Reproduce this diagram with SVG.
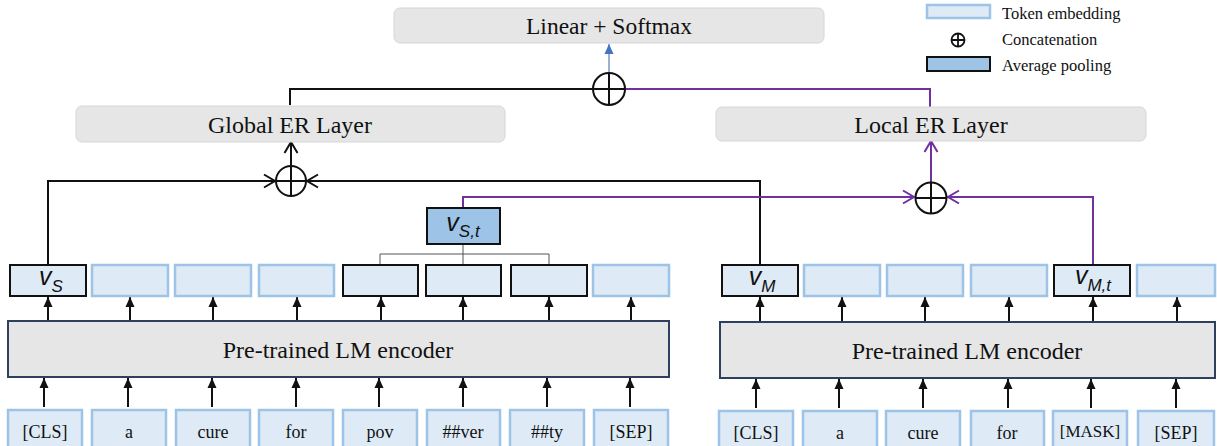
<svg xmlns="http://www.w3.org/2000/svg" width="1217" height="446" viewBox="0 0 1217 446">
<style>
.layer{fill:#e6e6e6;stroke:#d6d6d6;stroke-width:1}
.enc{fill:#e6e6e6;stroke:#2f3f60;stroke-width:2}
.tok{fill:#deebf7;stroke:#9dc3e6;stroke-width:2.5}
.sel{fill:#deebf7;stroke:#111;stroke-width:2}
.pool{fill:#9dc3e6;stroke:#111;stroke-width:2}
.vlab{font-style:italic;fill:#111;font-size:25px}
.sub{font-size:17px}
.blk{fill:none;stroke:#111;stroke-width:2}
.pur{fill:none;stroke:#7030a0;stroke-width:2}
.thin{fill:none;stroke:#555;stroke-width:1}
.cat{fill:#fff;stroke:#111;stroke-width:2}
</style>
<defs>
<marker id="tri" markerUnits="userSpaceOnUse" markerWidth="10" markerHeight="10" viewBox="0 0 10 10" refX="10" refY="5" orient="auto">
<path d="M0,0.5 L10,5 L0,9.5 Z" fill="#111"/>
</marker>
<marker id="triBlue" markerUnits="userSpaceOnUse" markerWidth="10" markerHeight="10" viewBox="0 0 10 10" refX="10" refY="5" orient="auto">
<path d="M0,0.5 L10,5 L0,9.5 Z" fill="#4472c4"/>
</marker>
<marker id="chevK" markerUnits="userSpaceOnUse" markerWidth="14" markerHeight="16" viewBox="0 0 14 16" refX="12" refY="8" orient="auto">
<path d="M1,1.5 L12,8 L1,14.5" fill="none" stroke="#111" stroke-width="2"/>
</marker>
<marker id="chevP" markerUnits="userSpaceOnUse" markerWidth="14" markerHeight="16" viewBox="0 0 14 16" refX="12" refY="8" orient="auto">
<path d="M1,1.5 L12,8 L1,14.5" fill="none" stroke="#7030a0" stroke-width="2"/>
</marker>
</defs>

<g id="legend" font-family="Liberation Serif" font-size="16.5" fill="#111">
<rect x="927" y="5" width="63" height="13" class="tok" stroke-width="2"/>
<text x="1002" y="19">Token embedding</text>
<circle cx="958" cy="40" r="6.5" fill="#fff" stroke="#111" stroke-width="1.8"/>
<path d="M951.5,40 H964.5 M958,33.5 V46.5" stroke="#111" stroke-width="1.8"/>
<text x="1002" y="45">Concatenation</text>
<rect x="927" y="57" width="63" height="14" class="pool"/>
<text x="1002" y="71">Average pooling</text>
</g>

<g id="connectors">
<line x1="609" y1="73" x2="609" y2="44" stroke="#9db0d3" stroke-width="2" marker-end="url(#triBlue)"/>
<polyline points="290,105 290,89 593,89" class="blk"/>
<polyline points="625,89 930,89 930,107" class="pur"/>
<polyline points="48,265 48,181 275,181" class="blk" marker-end="url(#chevK)"/>
<polyline points="760,265 760,181 307,181" class="blk" marker-end="url(#chevK)"/>
<line x1="291" y1="166" x2="291" y2="142" class="blk" marker-end="url(#chevK)"/>
<polyline points="463,208 463,197 914,197" class="pur" marker-end="url(#chevP)"/>
<polyline points="1093,265 1093,197 948,197" class="pur" marker-end="url(#chevP)"/>
<line x1="931" y1="182" x2="931" y2="141" class="pur" marker-end="url(#chevP)"/>
<polyline points="463,244 463,254" class="thin"/>
<polyline points="380,265 380,254 549,254 549,265" class="thin"/>
<line x1="463" y1="254" x2="463" y2="265" class="thin"/>
<g class="blk">
<line x1="48" y1="321" x2="48" y2="297" marker-end="url(#tri)"/>
<line x1="130" y1="321" x2="130" y2="297" marker-end="url(#tri)"/>
<line x1="213" y1="321" x2="213" y2="297" marker-end="url(#tri)"/>
<line x1="297" y1="321" x2="297" y2="297" marker-end="url(#tri)"/>
<line x1="381" y1="321" x2="381" y2="297" marker-end="url(#tri)"/>
<line x1="463" y1="321" x2="463" y2="297" marker-end="url(#tri)"/>
<line x1="549" y1="321" x2="549" y2="297" marker-end="url(#tri)"/>
<line x1="631" y1="321" x2="631" y2="297" marker-end="url(#tri)"/>
<line x1="760" y1="322" x2="760" y2="297" marker-end="url(#tri)"/>
<line x1="842" y1="322" x2="842" y2="297" marker-end="url(#tri)"/>
<line x1="925" y1="322" x2="925" y2="297" marker-end="url(#tri)"/>
<line x1="1009" y1="322" x2="1009" y2="297" marker-end="url(#tri)"/>
<line x1="1093" y1="322" x2="1093" y2="297" marker-end="url(#tri)"/>
<line x1="1177" y1="322" x2="1177" y2="297" marker-end="url(#tri)"/>
<line x1="44" y1="407" x2="44" y2="378" marker-end="url(#tri)"/>
<line x1="128" y1="407" x2="128" y2="378" marker-end="url(#tri)"/>
<line x1="212" y1="407" x2="212" y2="378" marker-end="url(#tri)"/>
<line x1="296" y1="407" x2="296" y2="378" marker-end="url(#tri)"/>
<line x1="379" y1="407" x2="379" y2="378" marker-end="url(#tri)"/>
<line x1="463" y1="407" x2="463" y2="378" marker-end="url(#tri)"/>
<line x1="547" y1="407" x2="547" y2="378" marker-end="url(#tri)"/>
<line x1="630" y1="407" x2="630" y2="378" marker-end="url(#tri)"/>
<line x1="756" y1="408" x2="756" y2="379" marker-end="url(#tri)"/>
<line x1="839" y1="408" x2="839" y2="379" marker-end="url(#tri)"/>
<line x1="923" y1="408" x2="923" y2="379" marker-end="url(#tri)"/>
<line x1="1008" y1="408" x2="1008" y2="379" marker-end="url(#tri)"/>
<line x1="1091" y1="408" x2="1091" y2="379" marker-end="url(#tri)"/>
<line x1="1176" y1="408" x2="1176" y2="379" marker-end="url(#tri)"/>
</g>
</g>

<g id="linear-softmax">
<rect x="394" y="8" width="430" height="35" rx="6" class="layer"/>
<text x="609" y="34" text-anchor="middle" font-family="Liberation Serif" font-size="23.5" fill="#111">Linear + Softmax</text>
</g>
<g id="concat-top">
<circle cx="609" cy="89" r="16" class="cat"/>
<path d="M593,89 H625 M609,73 V105" stroke="#111" stroke-width="2"/>
</g>
<g id="global-er">
<rect x="76" y="106" width="429" height="36" rx="6" class="layer"/>
<text x="290" y="133" text-anchor="middle" font-family="Liberation Serif" font-size="24" fill="#111">Global ER Layer</text>
</g>
<g id="local-er">
<rect x="716" y="107" width="430" height="34" rx="6" class="layer"/>
<text x="931" y="133" text-anchor="middle" font-family="Liberation Serif" font-size="24" fill="#111">Local ER Layer</text>
</g>
<g id="concat-global">
<circle cx="291" cy="181" r="15" class="cat"/>
<path d="M276,181 H306 M291,166 V196" stroke="#111" stroke-width="2"/>
</g>
<g id="concat-local">
<circle cx="931" cy="198" r="15.5" class="cat"/>
<path d="M915.5,198 H946.5 M931,182.5 V213.5" stroke="#111" stroke-width="2"/>
</g>
<g id="v-st">
<rect x="427" y="208" width="73" height="36" class="pool"/>
<text x="463" y="231" text-anchor="middle" class="vlab" font-family="Liberation Sans">v<tspan class="sub" dy="6">S,t</tspan></text>
</g>

<g id="left-embeddings">
<g id="v-s"><rect x="10" y="265" width="76" height="31" class="sel"/>
<text x="51" y="285" text-anchor="middle" class="vlab" font-family="Liberation Sans">v<tspan class="sub" dy="7">S</tspan></text></g>
<rect x="92" y="265" width="76" height="31" class="tok"/>
<rect x="175" y="265" width="76" height="31" class="tok"/>
<rect x="259" y="265" width="75" height="31" class="tok"/>
<rect x="343" y="265" width="75" height="31" class="sel"/>
<rect x="426" y="265" width="75" height="31" class="sel"/>
<rect x="511" y="265" width="76" height="31" class="sel"/>
<rect x="593" y="265" width="76" height="31" class="tok"/>
</g>
<g id="right-embeddings">
<g id="v-m"><rect x="722" y="265" width="76" height="31" class="sel"/>
<text x="762" y="285" text-anchor="middle" class="vlab" font-family="Liberation Sans">v<tspan class="sub" dy="7">M</tspan></text></g>
<rect x="804" y="265" width="76" height="31" class="tok"/>
<rect x="887" y="265" width="76" height="31" class="tok"/>
<rect x="971" y="265" width="76" height="31" class="tok"/>
<g id="v-mt"><rect x="1054" y="265" width="76" height="31" class="sel"/>
<text x="1093" y="284" text-anchor="middle" class="vlab" font-family="Liberation Sans">v<tspan class="sub" dy="7">M,t</tspan></text></g>
<rect x="1137" y="265" width="78" height="31" class="tok"/>
</g>

<g id="encoder-left">
<rect x="8" y="321" width="661" height="56" class="enc"/>
<text x="338" y="358" text-anchor="middle" font-family="Liberation Serif" font-size="24" fill="#111">Pre-trained LM encoder</text>
</g>
<g id="encoder-right">
<rect x="720" y="322" width="495" height="56" class="enc"/>
<text x="967" y="359" text-anchor="middle" font-family="Liberation Serif" font-size="24" fill="#111">Pre-trained LM encoder</text>
</g>

<g id="left-tokens" font-family="Liberation Serif" font-size="18" fill="#111" text-anchor="middle">
<rect x="8" y="410" width="74" height="40" class="tok"/><text x="45" y="438">[CLS]</text>
<rect x="92" y="410" width="74" height="40" class="tok"/><text x="129" y="438">a</text>
<rect x="176" y="410" width="74" height="40" class="tok"/><text x="213" y="438">cure</text>
<rect x="259" y="410" width="74" height="40" class="tok"/><text x="296" y="438">for</text>
<rect x="343" y="410" width="74" height="40" class="tok"/><text x="380" y="438">pov</text>
<rect x="427" y="410" width="73" height="40" class="tok"/><text x="463" y="438">##ver</text>
<rect x="510" y="410" width="74" height="40" class="tok"/><text x="547" y="438">##ty</text>
<rect x="594" y="410" width="74" height="40" class="tok"/><text x="631" y="438">[SEP]</text>
</g>
<g id="right-tokens" font-family="Liberation Serif" font-size="18" fill="#111" text-anchor="middle">
<rect x="719" y="411" width="74" height="40" class="tok"/><text x="756" y="439">[CLS]</text>
<rect x="803" y="411" width="74" height="40" class="tok"/><text x="840" y="439">a</text>
<rect x="886" y="411" width="74" height="40" class="tok"/><text x="923" y="439">cure</text>
<rect x="971" y="411" width="73" height="40" class="tok"/><text x="1007" y="439">for</text>
<rect x="1053" y="411" width="74" height="40" class="tok"/><text x="1090" y="437" font-size="17">[MASK]</text>
<rect x="1138" y="411" width="76" height="40" class="tok"/><text x="1176" y="439">[SEP]</text>
</g>
</svg>
